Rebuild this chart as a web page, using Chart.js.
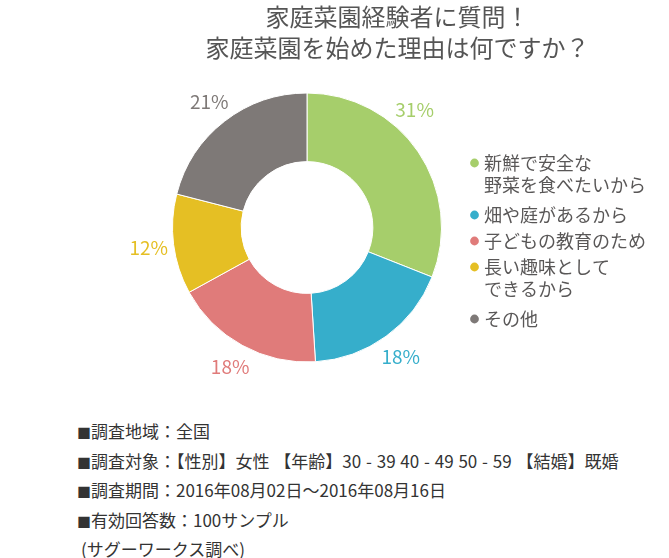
<!DOCTYPE html>
<html lang="ja">
<head>
<meta charset="utf-8">
<script src="https://cdn.jsdelivr.net/npm/chart.js@4.4.1/dist/chart.umd.min.js"></script>
<style>
  html, body { margin: 0; padding: 0; background: #fff; }
  body { width: 669px; height: 558px; position: relative; overflow: hidden;
         font-family: "Noto Sans CJK JP", "Noto Sans", sans-serif; }
  #title { position: absolute; top: 0; left: 0; width: 669px; box-sizing: border-box;
           padding-left: 126px; text-align: center; font-size: 24px; line-height: 31px;
           color: #555555; white-space: nowrap; }
  #wrap { position: absolute; top: 0; left: 0; width: 669px; height: 400px; }
  #notes { position: absolute; top: 417px; left: 77px; font-size: 17px; line-height: 28.5px;
           color: #333333; white-space: nowrap; word-spacing: 1px; }
  #notes .sq { font-size: 14px; }
</style>
</head>
<body>
<div id="wrap"><canvas id="c" width="669" height="400"></canvas></div>
<div id="title">家庭菜園経験者に質問！<br>家庭菜園を始めた理由は何ですか？</div>
<div id="notes">
  <div><span class="sq">■</span>調査地域：全国</div>
  <div><span class="sq">■</span>調査対象：【性別】女性 【年齢】30 - 39 40 - 49 50 - 59 【結婚】既婚</div>
  <div><span class="sq">■</span>調査期間：2016年08月02日～2016年08月16日</div>
  <div><span class="sq">■</span>有効回答数：100サンプル</div>
  <div style="padding-left:4px">(サグーワークス調べ)</div>
</div>
<script>
const categories = [
  ["新鮮で安全な", "野菜を食べたいから"],
  "畑や庭があるから",
  "子どもの教育のため",
  ["長い趣味として", "できるから"],
  "その他"
];
const values = [31, 18, 18, 12, 21];
const colors = ["#a6ce6b", "#36aecb", "#e07b7a", "#e5bf24", "#7e7977"];

Chart.defaults.font.family = "'Noto Sans CJK JP', 'Noto Sans', sans-serif";

const outerLabels = {
  id: 'outerLabels',
  afterDatasetsDraw(chart) {
    const ctx = chart.ctx;
    const meta = chart.getDatasetMeta(0);
    const ds = chart.data.datasets[0];
    ctx.save();
    ctx.font = "19px 'Noto Sans CJK JP', 'Noto Sans', sans-serif";
    ctx.textAlign = 'center';
    ctx.textBaseline = 'middle';
    meta.data.forEach((arc, i) => {
      const p = arc.getProps(['x', 'y', 'startAngle', 'endAngle', 'outerRadius'], true);
      const mid = (p.startAngle + p.endAngle) / 2;
      const r = p.outerRadius + 25;
      let dx = Math.cos(mid) * r;
      let dy = Math.sin(mid) * r;
      const maxDx = p.outerRadius * 0.8; // keep clear of the legend
      if (dx > maxDx) {
        dx = maxDx;
        dy = (dy < 0 ? -1 : 1) * Math.sqrt(r * r - dx * dx);
      }
      ctx.fillStyle = ds.backgroundColor[i];
      ctx.fillText(ds.data[i] + '%', p.x + dx, p.y + dy);
    });
    ctx.restore();
  }
};

new Chart(document.getElementById('c'), {
  type: 'doughnut',
  data: {
    labels: categories,
    datasets: [{
      data: values,
      backgroundColor: colors,
      borderColor: '#ffffff',
      borderWidth: 1,
      radius: 134.5,
      cutout: 72
    }]
  },
  options: {
    responsive: false,
    animation: false,
    events: [],
    layout: { padding: { left: 148, right: 13, top: 80, bottom: 25 } },
    plugins: {
      title: { display: false },
      tooltip: { enabled: false },
      legend: {
        position: 'right',
        align: 'center',
        title: { display: true, text: '', padding: { top: 12.6, bottom: 0 }, font: { size: 12, lineHeight: 1.2 } },
        labels: {
          usePointStyle: true,
          pointStyle: 'circle',
          boxWidth: 1,
          boxHeight: 6.2,
          padding: 8,
          color: '#595757',
          font: { size: 18, lineHeight: 22 / 18 },
          generateLabels(chart) {
            const items = Chart.overrides.doughnut.plugins.legend.labels.generateLabels(chart);
            return items.map(it => Object.assign(it, { strokeStyle: it.fillStyle, lineWidth: 0 }));
          }
        }
      }
    }
  },
  plugins: [outerLabels]
});
</script>
</body>
</html>
